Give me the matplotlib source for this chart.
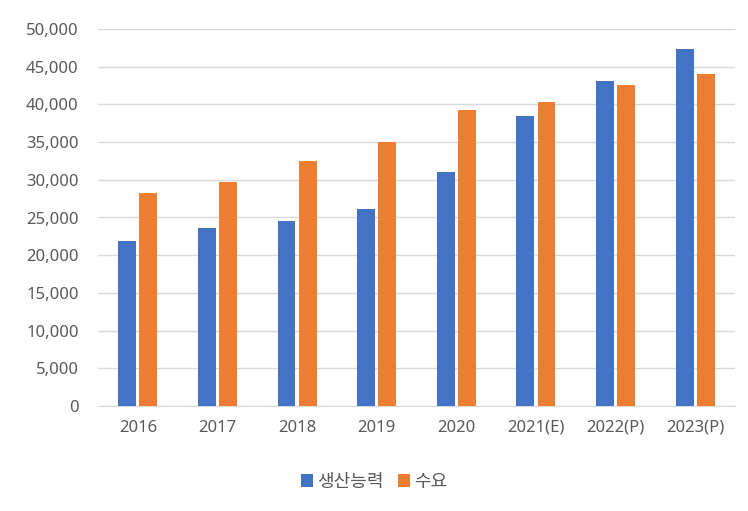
import matplotlib
matplotlib.use("Agg")
import matplotlib.pyplot as plt
import numpy as np
from matplotlib.ticker import FuncFormatter
from matplotlib import font_manager as fm

names = {f.name for f in fm.fontManager.ttflist}
cjk = [n for n in ["Noto Sans CJK KR", "Noto Sans CJK JP", "Noto Sans CJK SC", "Noto Sans CJK TC"] if n in names]
plt.rcParams["font.family"] = ["Noto Sans"] + cjk + ["DejaVu Sans"]

categories = ["2016", "2017", "2018", "2019", "2020", "2021(E)", "2022(P)", "2023(P)"]
capacity = [21900, 23600, 24500, 26100, 31000, 38500, 43100, 47300]
demand = [28200, 29700, 32500, 35000, 39300, 40300, 42600, 44000]
series_names = ["생산능력", "수요"]

fig = plt.figure(figsize=(7.48, 5.11), dpi=100)
ax = fig.add_axes([98/748, 1-406/511, (735-98)/748, (406-29)/511])
x = np.arange(len(categories))
w = 0.225
ax.bar(x - w/2 - 0.02, capacity, w, color="#4472C4", label=series_names[0], zorder=3)
ax.bar(x + w/2 + 0.02, demand, w, color="#ED7D31", label=series_names[1], zorder=3)
ax.set_xlim(-0.5, len(categories) - 0.5)
ax.set_ylim(0, 50000)
ax.set_yticks(np.arange(0, 50001, 5000))
ax.yaxis.set_major_formatter(FuncFormatter(lambda v, p: f"{int(v):,}"))
ax.set_xticks(x)
ax.set_xticklabels(categories)
ax.grid(axis="y", color="#D9D9D9", linewidth=1, zorder=0)
for s in ["top", "right", "left"]:
    ax.spines[s].set_visible(False)
ax.spines["bottom"].set_color("#D9D9D9")
ax.tick_params(axis="both", length=0, colors="#595959", labelsize=12)
ax.tick_params(axis="x", pad=10)
ax.tick_params(axis="y", pad=14)
fig.legend(loc="center", bbox_to_anchor=(0.5, 1-482/511), ncol=2, frameon=False,
           fontsize=13, handlelength=0.7, handleheight=0.7, handletextpad=0.2,
           columnspacing=0.8, labelcolor="#595959")
fig.savefig("out.png", dpi=100)
